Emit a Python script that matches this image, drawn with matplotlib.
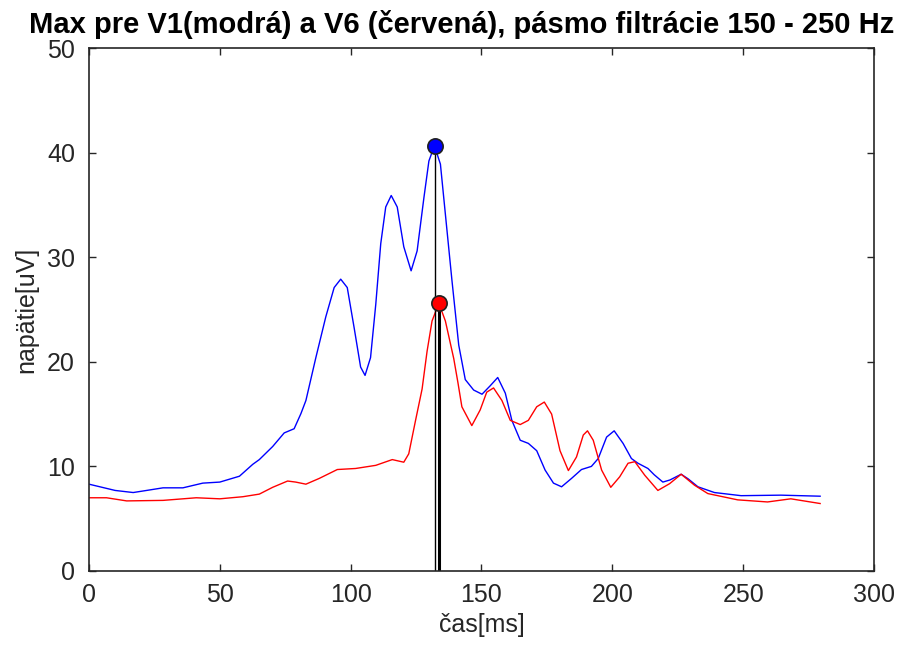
import matplotlib
matplotlib.use("Agg")
import matplotlib.pyplot as plt

plt.rcParams['font.family'] = ['Liberation Sans', 'DejaVu Sans']

# V1 (blue) envelope
v1_t = [0, 5, 10, 16.9, 22, 28.3, 35.9, 43.5, 50, 57.5, 62.6, 65.1, 70.2, 74.6,
        78.4, 81, 82.9, 86.7, 90.5, 93.7, 96.2, 98.7, 101.3, 103.8, 105.5,
        107.6, 109.6, 111.5, 113.4, 115.5, 117.8, 120.3, 123.1, 125.4, 128,
        129.9, 132, 134.3, 136.2, 138.7, 141.3, 143.8, 147, 150.2, 153.3,
        156.2, 159.1, 161.6, 164.8, 167.9, 171.1, 174.3, 177.5, 180.6, 184.4,
        188.2, 192, 194.6, 197.8, 200.7, 204.1, 207.3, 209.8, 213.6, 216,
        219.3, 222, 226.3, 229, 232.7, 239, 249.2, 264.4, 279.4]
v1_u = [8.3, 8.0, 7.7, 7.5, 7.7, 7.95, 7.95, 8.4, 8.5, 9.06, 10.2, 10.65, 11.9, 13.2,
        13.6, 15.05, 16.3, 20.4, 24.3, 27.1, 27.9, 27.1, 23.3, 19.5, 18.7,
        20.4, 25.5, 31.3, 34.8, 35.9, 34.8, 31.0, 28.7, 30.6, 35.7,
        39.2, 40.65, 38.9, 34.1, 27.8, 21.6, 18.3, 17.3, 16.9, 17.7,
        18.5, 17.0, 14.4, 12.5, 12.2, 11.5, 9.65, 8.4, 8.05, 8.85,
        9.7, 10.0, 10.75, 12.8, 13.4, 12.2, 10.75, 10.3, 9.8, 9.2,
        8.5, 8.7, 9.25, 8.8, 8.05, 7.5, 7.2, 7.25, 7.15]

# V6 (red) envelope
v6_t = [0, 6.7, 14.4, 28.3, 41, 50, 58.8, 65.1, 70.2, 75.9, 79, 82.9, 88,
        94.9, 101.9, 109.6, 115.9, 120.3, 122.2, 124.8, 127.3, 129.2, 131.1,
        133.7, 136.2, 139.4, 141, 142.5, 146.3, 149.5, 152, 154.6, 157.8, 161,
        164.8, 167.9, 171.1, 174, 176.8, 180, 183.2, 186.3, 188.9, 190.5,
        192.7, 195.9, 199.4, 202.8, 206, 208.6, 212.4, 217.4, 221.9, 226.3,
        231.4, 236.5, 247.9, 259.3, 268.2, 279.4]
v6_u = [7.0, 7.0, 6.7, 6.75, 7.0, 6.9, 7.1, 7.35, 8.0, 8.6, 8.5, 8.3, 8.85,
        9.7, 9.8, 10.1, 10.65, 10.4, 11.2, 14.4, 17.4, 21.0, 23.9,
        25.6, 23.9, 20.3, 18.0, 15.7, 13.9, 15.4, 17.1, 17.5, 16.3, 14.4,
        14.0, 14.4, 15.7, 16.15, 15.0, 11.5, 9.6, 10.9, 13.0, 13.4,
        12.5, 9.65, 8.0, 9.0, 10.3, 10.45, 9.15, 7.7, 8.35, 9.25,
        8.2, 7.4, 6.8, 6.6, 6.9, 6.45]

max_v1 = (132.1, 40.65)
max_v6 = (133.7, 25.6)

fig = plt.figure(figsize=(9.21, 6.56), dpi=100)
ax = fig.add_axes([0.0966, 0.1296, 0.8524, 0.7972])

ax.plot(v1_t, v1_u, color='blue', lw=1.0)
ax.plot(v6_t, v6_u, color='red', lw=1.0)

ax.plot([max_v1[0], max_v1[0]], [0, max_v1[1]], color='black', lw=1.0)
ax.plot([max_v6[0], max_v6[0]], [0, max_v6[1]], color='black', lw=2.2)
ax.plot(*max_v1, 'o', color='blue', mec='#202020', ms=11, mew=1.2)
ax.plot(*max_v6, 'o', color='red', mec='#202020', ms=11, mew=1.2)

ax.set_xlim(0, 300)
ax.set_ylim(0, 50)
ax.set_xticks([0, 50, 100, 150, 200, 250, 300])
ax.set_yticks([0, 10, 20, 30, 40, 50])

gray = '#262626'
for s in ax.spines.values():
    s.set_color(gray)
    s.set_linewidth(1.2)
ax.tick_params(direction='in', length=5, width=1, colors=gray, labelsize=18,
               top=True, right=True)
ax.tick_params(axis='x', pad=9)
ax.tick_params(axis='y', pad=10)

ax.set_xlabel('čas[ms]', fontsize=18, color=gray, labelpad=4)
ax.set_ylabel('napätie[uV]', fontsize=18, color=gray, labelpad=6)
fig.text(462 / 921, 1 - 33 / 656, 'Max pre V1(modrá) a V6 (červená), pásmo filtrácie 150 - 250 Hz',
         ha='center', va='baseline', fontsize=21, fontweight='bold')

fig.savefig('out.png', dpi=100)
